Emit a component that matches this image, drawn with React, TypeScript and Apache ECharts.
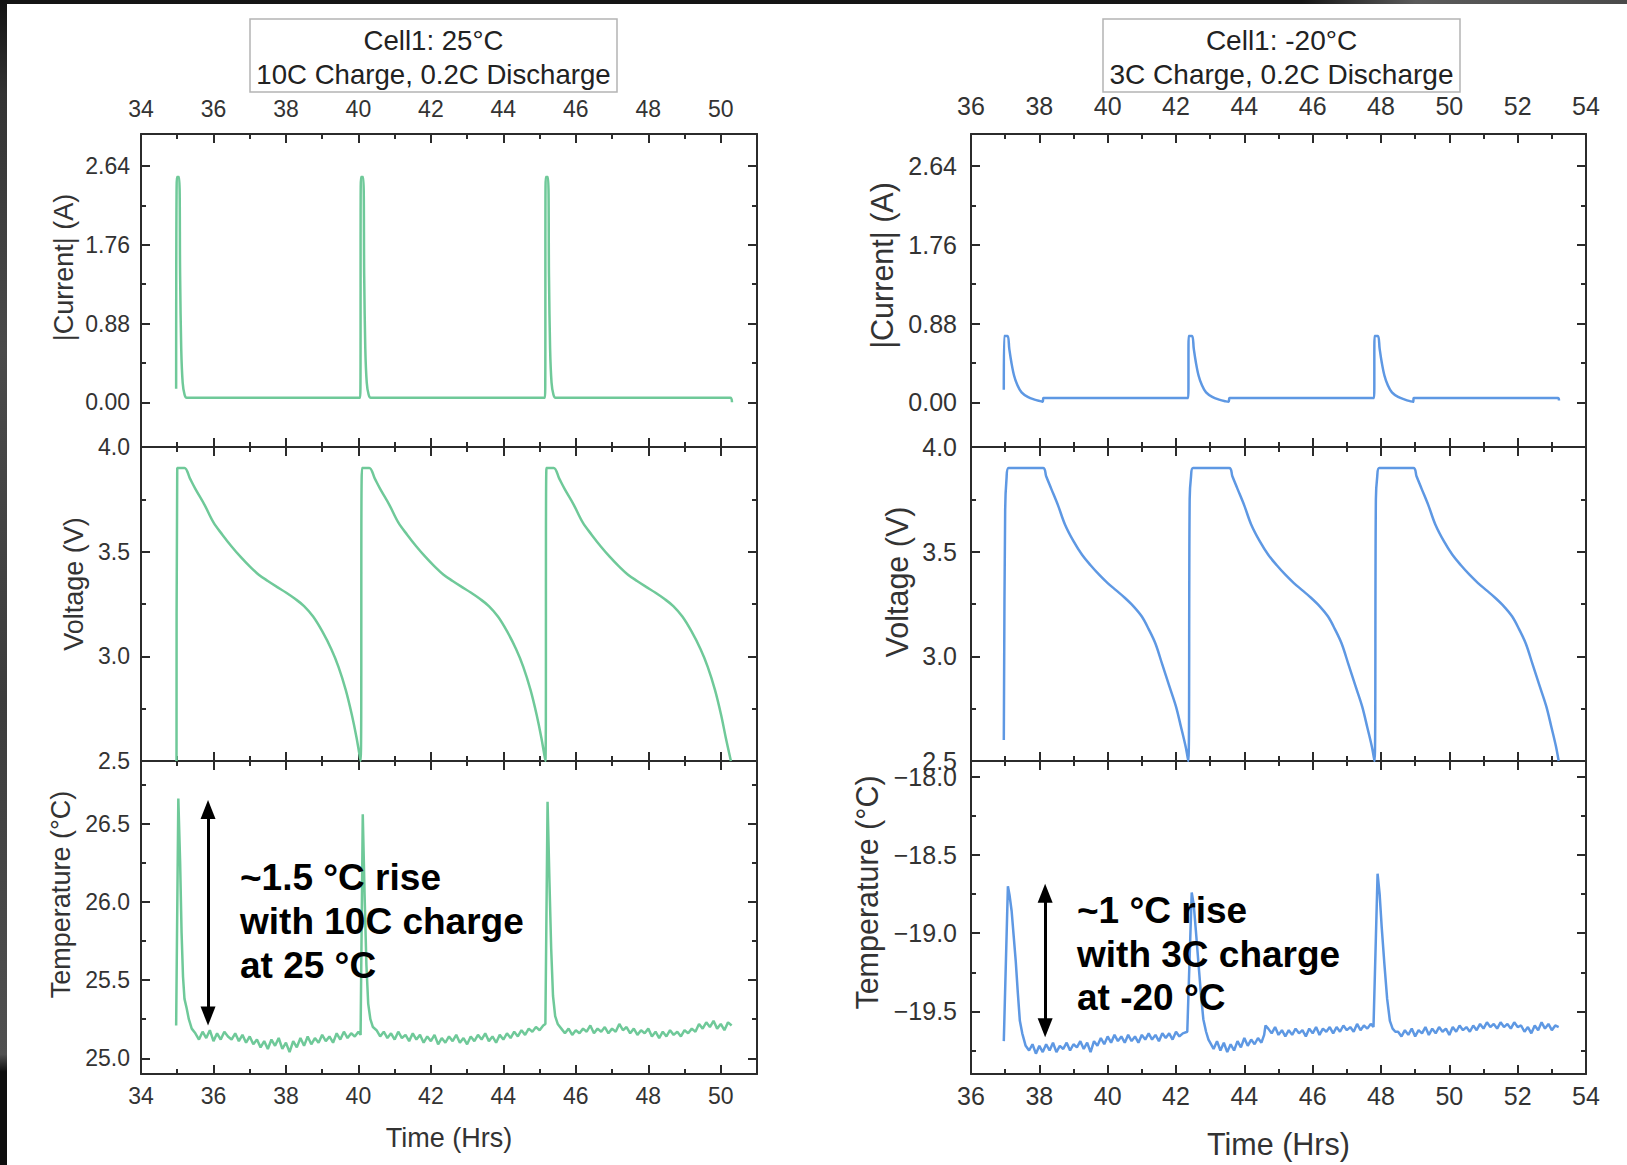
import React, { useEffect, useRef } from "react";
import * as echarts from "echarts";

const FONT = '"Liberation Sans", Arial, Helvetica, sans-serif';
const GREEN = "#6fc999";
const BLUE = "#5e98e3";
const INK = "#2b2b2b";

// ---------- tick labels ----------
const LEFT_TIME_TICKS = [34, 36, 38, 40, 42, 44, 46, 48, 50];
const LEFT_TIME_MINOR = [35, 37, 39, 41, 43, 45, 47, 49];
const RIGHT_TIME_TICKS = [36, 38, 40, 42, 44, 46, 48, 50, 52, 54];
const RIGHT_TIME_MINOR = [37, 39, 41, 43, 45, 47, 49, 51, 53];
const CURRENT_TICKS = [0, 0.88, 1.76, 2.64];
const CURRENT_MINOR = [0.44, 1.32, 2.2];
const VOLTAGE_TICKS = [2.5, 3.0, 3.5, 4.0];
const VOLTAGE_MINOR = [2.75, 3.25, 3.75];
const LEFT_TEMP_TICKS = [25.0, 25.5, 26.0, 26.5];
const LEFT_TEMP_MINOR = [25.25, 25.75, 26.25, 26.75];
const RIGHT_TEMP_TICKS = [-19.5, -19.0, -18.5, -18.0];
const RIGHT_TEMP_MINOR = [-19.75, -19.25, -18.75, -18.25];

// ---------- Cell1 25°C (10C charge) ----------
const LEFT_CURRENT = [
  [34.97, 0.15], [34.99, 2.52], [35.05, 2.52], [35.08, 1.4], [35.11, 0.6], [35.15, 0.22], [35.2, 0.09], [35.26, 0.05],
  [40.05, 0.05], [40.07, 2.52], [40.13, 2.52], [40.16, 1.4], [40.19, 0.6], [40.23, 0.22], [40.28, 0.09], [40.34, 0.05],
  [45.15, 0.05], [45.17, 2.52], [45.23, 2.52], [45.26, 1.4], [45.29, 0.6], [45.33, 0.22], [45.38, 0.09], [45.44, 0.05],
  [50.26, 0.05], [50.31, 0.0],
];

const LEFT_VOLTAGE = [
  [34.98, 2.5], [35.0, 3.9], [35.2, 3.9], [35.35, 3.85], [35.5, 3.8], [35.75, 3.725], [36.0, 3.64], [36.25, 3.58],
  [36.5, 3.525], [36.75, 3.475], [37.0, 3.43], [37.25, 3.39], [37.5, 3.36], [37.75, 3.332], [38.0, 3.305],
  [38.25, 3.275], [38.5, 3.24], [38.75, 3.19], [39.0, 3.12], [39.25, 3.035], [39.45, 2.95], [39.65, 2.84],
  [39.82, 2.72], [39.95, 2.61], [40.06, 2.5],
  [40.1, 3.9], [40.3, 3.9], [40.45, 3.85], [40.6, 3.8], [40.85, 3.725], [41.1, 3.64], [41.35, 3.58],
  [41.6, 3.525], [41.85, 3.475], [42.1, 3.43], [42.35, 3.39], [42.6, 3.36], [42.85, 3.332], [43.1, 3.305],
  [43.35, 3.275], [43.6, 3.24], [43.85, 3.19], [44.1, 3.12], [44.35, 3.035], [44.55, 2.95], [44.75, 2.84],
  [44.92, 2.72], [45.05, 2.61], [45.16, 2.5],
  [45.19, 3.9], [45.39, 3.9], [45.54, 3.85], [45.69, 3.8], [45.94, 3.725], [46.19, 3.64], [46.44, 3.58],
  [46.69, 3.525], [46.94, 3.475], [47.19, 3.43], [47.44, 3.39], [47.69, 3.36], [47.94, 3.332], [48.19, 3.305],
  [48.44, 3.275], [48.69, 3.24], [48.94, 3.19], [49.19, 3.12], [49.44, 3.035], [49.64, 2.95], [49.84, 2.84],
  [50.01, 2.72], [50.14, 2.61], [50.28, 2.5],
];

const LEFT_TEMP_SPIKE_1 = [
  [34.97, 25.21], [35.03, 26.66], [35.08, 26.25], [35.12, 25.8], [35.16, 25.52], [35.2, 25.38], [35.26, 25.32],
  [35.32, 25.25], [35.4, 25.19],
];
const LEFT_TEMP_BASE_1 = [
  25.16, 25.12, 25.17, 25.13, 25.18, 25.11, 25.16, 25.12, 25.17, 25.14,
  25.12, 25.16, 25.11, 25.15, 25.1, 25.14, 25.09, 25.12, 25.07, 25.11,
  25.06, 25.12, 25.08, 25.13, 25.06, 25.1, 25.04, 25.11, 25.07, 25.13,
  25.08, 25.14, 25.09, 25.13, 25.1, 25.15, 25.11, 25.14, 25.1, 25.16,
  25.12, 25.17, 25.13, 25.16, 25.14, 25.17,
];
const LEFT_TEMP_SPIKE_2 = [
  [40.06, 25.15], [40.12, 26.56], [40.17, 26.05], [40.22, 25.6], [40.27, 25.35], [40.33, 25.25], [40.4, 25.2],
];
const LEFT_TEMP_BASE_2 = [
  25.18, 25.14, 25.17, 25.13, 25.16, 25.12, 25.17, 25.13, 25.15, 25.11,
  25.16, 25.12, 25.15, 25.1, 25.14, 25.11, 25.15, 25.09, 25.13, 25.1,
  25.14, 25.11, 25.15, 25.1, 25.13, 25.09, 25.14, 25.11, 25.15, 25.12,
  25.16, 25.11, 25.14, 25.1, 25.15, 25.12, 25.16, 25.13, 25.17, 25.14,
  25.18, 25.15, 25.19, 25.17, 25.2, 25.18, 25.21,
];
const LEFT_TEMP_SPIKE_3 = [
  [45.16, 25.22], [45.22, 26.64], [45.27, 26.15], [45.32, 25.7], [45.37, 25.4], [45.43, 25.27], [45.5, 25.22],
];
const LEFT_TEMP_BASE_3 = [
  25.19, 25.16, 25.19, 25.15, 25.18, 25.16, 25.19, 25.17, 25.21, 25.16,
  25.19, 25.17, 25.2, 25.16, 25.19, 25.17, 25.22, 25.18, 25.2, 25.16,
  25.19, 25.15, 25.18, 25.16, 25.19, 25.14, 25.17, 25.13, 25.17, 25.14,
  25.18, 25.15, 25.17, 25.14, 25.18, 25.16, 25.19, 25.17, 25.22, 25.19,
  25.23, 25.2, 25.24, 25.19, 25.22, 25.18, 25.23, 25.21,
];

// ---------- Cell1 -20°C (3C charge) ----------
const RIGHT_CURRENT = [
  [36.96, 0.14], [36.97, 0.74], [37.07, 0.74], [37.12, 0.6], [37.18, 0.45], [37.26, 0.3], [37.36, 0.19],
  [37.48, 0.11], [37.66, 0.06], [37.86, 0.03], [38.06, 0.01], [38.1, 0.005], [38.12, 0.048],
  [42.36, 0.048], [42.37, 0.74], [42.47, 0.74], [42.52, 0.6], [42.58, 0.45], [42.66, 0.3], [42.76, 0.19],
  [42.88, 0.11], [43.06, 0.06], [43.26, 0.03], [43.46, 0.01], [43.54, 0.005], [43.57, 0.048],
  [47.8, 0.048], [47.81, 0.74], [47.91, 0.74], [47.96, 0.6], [48.02, 0.45], [48.1, 0.3], [48.2, 0.19],
  [48.32, 0.11], [48.5, 0.06], [48.7, 0.03], [48.88, 0.01], [48.94, 0.005], [48.96, 0.048],
  [53.18, 0.048], [53.21, 0.02],
];

const RIGHT_VOLTAGE = [
  [36.96, 2.6], [37.0, 3.7], [37.04, 3.85], [37.1, 3.9], [38.11, 3.9], [38.2, 3.86], [38.35, 3.8],
  [38.55, 3.72], [38.75, 3.63], [39.0, 3.55], [39.25, 3.485], [39.5, 3.435], [39.75, 3.39], [40.0, 3.35],
  [40.25, 3.315], [40.5, 3.28], [40.75, 3.24], [41.0, 3.19], [41.2, 3.13], [41.4, 3.06], [41.6, 2.96],
  [41.8, 2.86], [42.0, 2.76], [42.15, 2.66], [42.28, 2.57], [42.36, 2.5],
  [42.4, 3.75], [42.44, 3.86], [42.5, 3.9], [43.56, 3.9], [43.65, 3.86], [43.8, 3.8],
  [44.0, 3.72], [44.2, 3.63], [44.45, 3.55], [44.7, 3.485], [44.95, 3.435], [45.2, 3.39], [45.45, 3.35],
  [45.7, 3.315], [45.95, 3.28], [46.2, 3.24], [46.45, 3.19], [46.65, 3.13], [46.85, 3.06], [47.05, 2.96],
  [47.25, 2.86], [47.45, 2.76], [47.6, 2.66], [47.73, 2.57], [47.81, 2.5],
  [47.85, 3.75], [47.89, 3.86], [47.95, 3.9], [48.95, 3.9], [49.04, 3.86], [49.19, 3.8],
  [49.39, 3.72], [49.59, 3.63], [49.84, 3.55], [50.09, 3.485], [50.34, 3.435], [50.59, 3.39], [50.84, 3.35],
  [51.09, 3.315], [51.34, 3.28], [51.59, 3.24], [51.84, 3.19], [52.04, 3.13], [52.24, 3.06], [52.44, 2.96],
  [52.64, 2.86], [52.84, 2.76], [52.99, 2.66], [53.12, 2.57], [53.2, 2.5],
];

const RIGHT_TEMP_SPIKE_1 = [
  [36.96, -19.69], [37.08, -18.7], [37.13, -18.76], [37.19, -18.86], [37.25, -19.02], [37.31, -19.18],
  [37.37, -19.38], [37.43, -19.56], [37.5, -19.64], [37.6, -19.72],
];
const RIGHT_TEMP_BASE_1 = [
  -19.75, -19.71, -19.77, -19.72, -19.76, -19.71, -19.75, -19.7, -19.76, -19.72,
  -19.74, -19.7, -19.75, -19.71, -19.73, -19.69, -19.74, -19.7, -19.76, -19.69,
  -19.72, -19.67, -19.71, -19.66, -19.7, -19.65, -19.69, -19.66, -19.7, -19.65,
  -19.69, -19.66, -19.7, -19.65, -19.68, -19.64, -19.68, -19.65, -19.69, -19.64,
  -19.67, -19.64, -19.68, -19.63, -19.66, -19.64,
];
const RIGHT_TEMP_SPIKE_2 = [
  [42.33, -19.63], [42.46, -18.74], [42.52, -18.82], [42.58, -18.98], [42.66, -19.2], [42.73, -19.39],
  [42.8, -19.55], [42.88, -19.63], [42.95, -19.68],
];
const RIGHT_TEMP_BASE_2 = [
  -19.7, -19.74, -19.69, -19.75, -19.7, -19.76, -19.71, -19.75, -19.69, -19.73,
  -19.67, -19.72, -19.68, -19.71, -19.67, -19.7,
];
const RIGHT_TEMP_STEP = [[44.58, -19.65], [44.62, -19.59]];
const RIGHT_TEMP_BASE_3 = [
  -19.61, -19.64, -19.6, -19.65, -19.62, -19.66, -19.62, -19.65, -19.61, -19.64,
  -19.62, -19.66, -19.61, -19.64, -19.6, -19.65, -19.61, -19.63, -19.6, -19.64,
  -19.6, -19.63, -19.59, -19.62, -19.6, -19.63, -19.58, -19.62, -19.59, -19.61, -19.58,
];
const RIGHT_TEMP_SPIKE_3 = [
  [47.78, -19.6], [47.9, -18.62], [47.96, -18.75], [48.02, -18.96], [48.1, -19.2], [48.18, -19.42],
  [48.26, -19.56], [48.34, -19.61], [48.42, -19.63],
];
const RIGHT_TEMP_BASE_4 = [
  -19.63, -19.66, -19.62, -19.65, -19.61, -19.66, -19.62, -19.64, -19.6, -19.65,
  -19.61, -19.64, -19.6, -19.63, -19.61, -19.65, -19.6, -19.63, -19.59, -19.62,
  -19.6, -19.63, -19.59, -19.62, -19.58, -19.61, -19.57, -19.6, -19.58, -19.61,
  -19.57, -19.6, -19.58, -19.61, -19.57, -19.6, -19.59, -19.63, -19.6, -19.64,
  -19.59, -19.62, -19.57, -19.61, -19.58, -19.62, -19.59, -19.6,
];

// baseline readings were taken every 0.1 h
const sampled = (start: number, step: number, vals: number[]) =>
  vals.map((v, i) => [Math.round((start + i * step) * 100) / 100, v]);

const LEFT_TEMP = [
  ...LEFT_TEMP_SPIKE_1, ...sampled(35.5, 0.1, LEFT_TEMP_BASE_1),
  ...LEFT_TEMP_SPIKE_2, ...sampled(40.5, 0.1, LEFT_TEMP_BASE_2),
  ...LEFT_TEMP_SPIKE_3, ...sampled(45.6, 0.1, LEFT_TEMP_BASE_3),
];
const RIGHT_TEMP = [
  ...RIGHT_TEMP_SPIKE_1, ...sampled(37.7, 0.1, RIGHT_TEMP_BASE_1),
  ...RIGHT_TEMP_SPIKE_2, ...sampled(43.0, 0.1, RIGHT_TEMP_BASE_2),
  ...RIGHT_TEMP_STEP, ...sampled(44.7, 0.1, RIGHT_TEMP_BASE_3),
  ...RIGHT_TEMP_SPIKE_3, ...sampled(48.5, 0.1, RIGHT_TEMP_BASE_4),
];

// annotation arrows (time, from temp, to temp)
const LEFT_ARROW = { t: 35.85, top: 26.65, bottom: 25.21 };
const RIGHT_ARROW = { t: 38.17, top: -18.685, bottom: -19.664 };

type Panel = {
  left: number; top: number; width: number; height: number;
  xMin: number; xMax: number; xMajor: number[]; xMinor: number[];
  yMin: number; yMax: number; yMajor: number[]; yMinor: number[];
  yFmt: (v: number) => string;
  topLabels: boolean; bottomLabels: boolean;
  xName?: string; xNameGap?: number;
  yName: string; yNameGap: number; yNameShift: number;
  tickFont: number; nameFont: number;
  xMarginTop: number; xMarginBottom: number; yMargin: number;
};

function addPanel(opt: any, c: Panel) {
  const gi = opt.grid.length;
  opt.grid.push({
    left: c.left, top: c.top, width: c.width, height: c.height,
    containLabel: false, outerBoundsMode: "none", show: false,
  });
  const line = { show: true, onZero: false, lineStyle: { color: INK, width: 2 } };
  const noLine = { show: false, onZero: false };
  const tick = (vals: number[], len: number) => ({
    show: true, inside: true, length: len, customValues: vals,
    lineStyle: { color: INK, width: 2 },
  });
  const lab = (show: boolean, vals: number[], margin: number, fmt: (v: number) => string) => ({
    show, customValues: vals, margin, fontSize: c.tickFont, color: "#333",
    fontFamily: FONT, formatter: fmt,
  });
  const xBase = {
    type: "value", gridIndex: gi, min: c.xMin, max: c.xMax,
    splitLine: { show: false }, minorTick: { show: false },
  };
  const xi = opt.xAxis.length;
  opt.xAxis.push({
    ...xBase, position: "bottom", axisLine: line, axisTick: tick(c.xMajor, 9),
    axisLabel: lab(c.bottomLabels, c.xMajor, c.xMarginBottom, (v: number) => String(v)),
    name: c.xName || "", nameLocation: "middle", nameGap: c.xNameGap || 0,
    nameTextStyle: { fontSize: c.nameFont, color: "#333", fontFamily: FONT },
  });
  opt.xAxis.push({ ...xBase, position: "bottom", axisLine: noLine, axisTick: tick(c.xMinor, 5), axisLabel: { show: false } });
  opt.xAxis.push({
    ...xBase, position: "top", axisLine: line, axisTick: tick(c.xMajor, 9),
    axisLabel: lab(c.topLabels, c.xMajor, c.xMarginTop, (v: number) => String(v)),
  });
  opt.xAxis.push({ ...xBase, position: "top", axisLine: noLine, axisTick: tick(c.xMinor, 5), axisLabel: { show: false } });

  const yBase = {
    type: "value", gridIndex: gi, min: c.yMin, max: c.yMax,
    splitLine: { show: false }, minorTick: { show: false },
  };
  const yi = opt.yAxis.length;
  opt.yAxis.push({
    ...yBase, position: "left", axisLine: line, axisTick: tick(c.yMajor, 9),
    axisLabel: lab(true, c.yMajor, c.yMargin, c.yFmt),
    name: c.yName, nameLocation: "middle", nameGap: c.yNameGap,
    nameTextStyle: {
      fontSize: c.nameFont, color: "#333", fontFamily: FONT,
      padding: [0, 0, 0, c.yNameShift * 2],
    },
  });
  opt.yAxis.push({ ...yBase, position: "left", axisLine: noLine, axisTick: tick(c.yMinor, 5), axisLabel: { show: false } });
  opt.yAxis.push({ ...yBase, position: "right", axisLine: line, axisTick: tick(c.yMajor, 9), axisLabel: { show: false } });
  opt.yAxis.push({ ...yBase, position: "right", axisLine: noLine, axisTick: tick(c.yMinor, 5), axisLabel: { show: false } });
  return { xi, yi };
}

const fix2 = (v: number) => v.toFixed(2);
const fix1 = (v: number) => v.toFixed(1);
const minusFix1 = (v: number) => (v < 0 ? "\u2212" : "") + Math.abs(v).toFixed(1);

function buildOption() {
  const opt: any = {
    animation: false,
    backgroundColor: "#ffffff",
    grid: [], xAxis: [], yAxis: [], series: [], graphic: [],
  };
  const ROWS = [
    { top: 134, height: 313 },
    { top: 447, height: 314 },
    { top: 761, height: 313 },
  ];
  const L = { left: 141, width: 616, xMin: 34, xMax: 51, xMajor: LEFT_TIME_TICKS, xMinor: LEFT_TIME_MINOR, tickFont: 23, nameFont: 27, xMarginTop: 14, xMarginBottom: 10, yMargin: 11 };
  const R = { left: 971, width: 615, xMin: 36, xMax: 54, xMajor: RIGHT_TIME_TICKS, xMinor: RIGHT_TIME_MINOR, tickFont: 25, nameFont: 30.5, xMarginTop: 16, xMarginBottom: 9, yMargin: 14 };

  const lineSeries = (ax: { xi: number; yi: number }, name: string, data: any[], color: string, extra: any = {}) => ({
    type: "line", name, data, xAxisIndex: ax.xi, yAxisIndex: ax.yi,
    showSymbol: false, symbol: "none", silent: true,
    lineStyle: { color, width: 2.5 }, itemStyle: { color }, z: 3, ...extra,
  });
  const arrow = (a: { t: number; top: number; bottom: number }, shrink: number) => ({
    silent: true, symbol: ["triangle", "triangle"], symbolSize: [15, 19],
    label: { show: false }, lineStyle: { color: "#000", width: 3, type: "solid" },
    itemStyle: { color: "#000" },
    data: [[{ coord: [a.t, a.top - shrink] }, { coord: [a.t, a.bottom + shrink] }]],
  });

  // Left column
  const lc = addPanel(opt, { ...L, ...ROWS[0], yMin: -0.5, yMax: 3.0, yMajor: CURRENT_TICKS, yMinor: CURRENT_MINOR, yFmt: fix2, topLabels: true, bottomLabels: false, yName: "|Current| (A)", yNameGap: 64, yNameShift: 23 });
  const lv = addPanel(opt, { ...L, ...ROWS[1], yMin: 2.5, yMax: 4.0, yMajor: VOLTAGE_TICKS, yMinor: VOLTAGE_MINOR, yFmt: fix1, topLabels: false, bottomLabels: false, yName: "Voltage (V)", yNameGap: 54, yNameShift: 20 });
  const lt = addPanel(opt, { ...L, ...ROWS[2], yMin: 24.9, yMax: 26.9, yMajor: LEFT_TEMP_TICKS, yMinor: LEFT_TEMP_MINOR, yFmt: fix1, topLabels: false, bottomLabels: true, xName: "Time (Hrs)", xNameGap: 50, yName: "Temperature (°C)", yNameGap: 67, yNameShift: 23 });
  // Right column
  const rc = addPanel(opt, { ...R, ...ROWS[0], yMin: -0.5, yMax: 3.0, yMajor: CURRENT_TICKS, yMinor: CURRENT_MINOR, yFmt: fix2, topLabels: true, bottomLabels: false, yName: "|Current| (A)", yNameGap: 74, yNameShift: 25 });
  const rv = addPanel(opt, { ...R, ...ROWS[1], yMin: 2.5, yMax: 4.0, yMajor: VOLTAGE_TICKS, yMinor: VOLTAGE_MINOR, yFmt: fix1, topLabels: false, bottomLabels: false, yName: "Voltage (V)", yNameGap: 59, yNameShift: 22 });
  const rt = addPanel(opt, { ...R, ...ROWS[2], yMin: -19.9, yMax: -17.9, yMajor: RIGHT_TEMP_TICKS, yMinor: RIGHT_TEMP_MINOR, yFmt: minusFix1, topLabels: false, bottomLabels: true, xName: "Time (Hrs)", xNameGap: 54, yName: "Temperature (°C)", yNameGap: 89, yNameShift: 25 });

  const SMOOTH = { smooth: 0.35 };
  opt.series.push(lineSeries(lc, "Current 25°C", LEFT_CURRENT, GREEN, SMOOTH));
  opt.series.push(lineSeries(lv, "Voltage 25°C", LEFT_VOLTAGE, GREEN, SMOOTH));
  opt.series.push(lineSeries(lt, "Temperature 25°C", LEFT_TEMP, GREEN, { markLine: arrow(LEFT_ARROW, 0.06) }));
  opt.series.push(lineSeries(rc, "Current -20°C", RIGHT_CURRENT, BLUE, SMOOTH));
  opt.series.push(lineSeries(rv, "Voltage -20°C", RIGHT_VOLTAGE, BLUE, SMOOTH));
  opt.series.push(lineSeries(rt, "Temperature -20°C", RIGHT_TEMP, BLUE, { markLine: arrow(RIGHT_ARROW, 0.06) }));

  // photo frame edges
  opt.graphic.push({
    type: "rect", z: 0, silent: true, shape: { x: 0, y: 0, width: 1627, height: 4 },
    style: { fill: new echarts.graphic.LinearGradient(0, 0, 1, 0, [
      { offset: 0, color: "#141414" }, { offset: 0.8, color: "#161616" },
      { offset: 0.87, color: "#5a5a5a" }, { offset: 1, color: "#4a4a4a" },
    ]) },
  });
  opt.graphic.push({
    type: "rect", z: 0, silent: true, shape: { x: 0, y: 0, width: 7, height: 1165 },
    style: { fill: new echarts.graphic.LinearGradient(0, 0, 0, 1, [
      { offset: 0, color: "#121212" }, { offset: 0.08, color: "#333" },
      { offset: 0.3, color: "#4a4a4a" }, { offset: 0.6, color: "#3c3c3c" },
      { offset: 0.905, color: "#505050" }, { offset: 0.92, color: "#0e0e0e" },
      { offset: 1, color: "#0e0e0e" },
    ]) },
  });

  // title boxes
  const titleBox = (x: number, w: number, l1: string, l2: string, fs: number) => ({
    type: "group", z: 10,
    children: [
      { type: "rect", shape: { x, y: 19, width: w, height: 73 }, style: { fill: "#fff", stroke: "#b4b4b4", lineWidth: 1.5 } },
      { type: "text", x: x + w / 2, y: 40, style: { text: l1, font: `${fs}px ${FONT}`, fill: "#222", align: "center", verticalAlign: "middle" } },
      { type: "text", x: x + w / 2, y: 74, style: { text: l2, font: `${fs}px ${FONT}`, fill: "#222", align: "center", verticalAlign: "middle" } },
    ],
  });
  opt.graphic.push(titleBox(250, 367, "Cell1: 25°C", "10C Charge, 0.2C Discharge", 27.6));
  opt.graphic.push(titleBox(1103, 357, "Cell1: -20°C", "3C Charge, 0.2C Discharge", 28));

  // annotation texts
  const note = (x: number, y: number, text: string) => ({
    type: "text", z: 20, x, y,
    style: { text, font: `bold 37px ${FONT}`, fill: "#000", align: "left", verticalAlign: "middle" },
  });
  opt.graphic.push(note(240, 877, "~1.5 °C rise"));
  opt.graphic.push(note(240, 921, "with 10C charge"));
  opt.graphic.push(note(240, 965, "at 25 °C"));
  opt.graphic.push(note(1077, 910, "~1 °C rise"));
  opt.graphic.push(note(1077, 954, "with 3C charge"));
  opt.graphic.push(note(1077, 997, "at -20 °C"));

  return opt;
}

export default function App() {
  const ref = useRef<HTMLDivElement>(null);
  useEffect(() => {
    if (!ref.current) return;
    const chart = echarts.init(ref.current, undefined, { renderer: "svg" });
    chart.setOption(buildOption());
    return () => chart.dispose();
  }, []);
  return (
    <div
      ref={ref}
      style={{ position: "fixed", left: 0, top: 0, width: 1627, height: 1165, background: "#fff" }}
    />
  );
}
